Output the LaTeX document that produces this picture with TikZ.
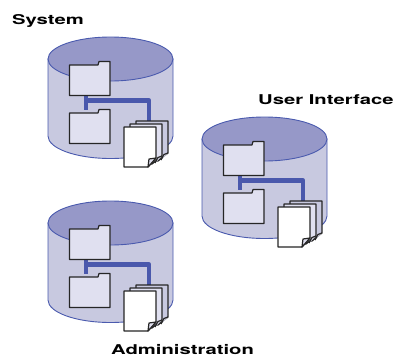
\documentclass[tikz,border=0pt]{standalone}
\usepackage{fontspec}
\newfontfamily\labfont[FakeStretch=1.5]{TeX Gyre Heros}
\definecolor{cyltop}{HTML}{9698C8}
\definecolor{cylbody}{HTML}{C8C9E0}
\definecolor{cylline}{HTML}{4A5AAE}
\definecolor{folderfill}{HTML}{E0E0F0}
\definecolor{linkblue}{HTML}{4A58AC}
\tikzset{
  cylpart/.style={draw=cylline,line width=0.9pt},
  folder/.style={draw=black!85,fill=folderfill,line width=1.2pt,line join=round},
  pagesheet/.style={draw=black!85,line width=1.2pt,line join=round},
  linkline/.style={draw=linkblue,line width=4.5pt,line join=round},
  lab/.style={font=\labfont\bfseries\fontsize{13.5}{15}\selectfont,text=black,inner sep=0pt,anchor=base west},
  store/.pic={
    % cylinder
    \path[cylpart,fill=cylbody] (48,59) -- (48,136) arc[start angle=180,end angle=0,x radius=62.5,y radius=22.5] -- (173,59) -- cycle;
    \path[cylpart,fill=cyltop] (110.5,59) ellipse[x radius=62.5,y radius=22];
    % link
    \coordinate (-a) at (86,95);
    \coordinate (-b) at (86,110);
    \coordinate (-c) at (86,100.5);
    \coordinate (-d) at (149,125);
    \draw[linkline] (-a) -- (-b);
    \draw[linkline] (-c) -- (149,100.5) -- (-d);
    % folders
    \path[folder] (69.5,65) -- (98,65) -- (99,61.5) -- (110,61.5) -- (110,95.5) -- (69.5,95.5) -- cycle;
    \path[folder] (69.5,113) -- (98,113) -- (99,109.5) -- (110,109.5) -- (110,143.5) -- (69.5,143.5) -- cycle;
    % pages, back to front
    \path[pagesheet,fill=cylbody] (136,121) -- (168,121) -- (168,153) -- (158,161) -- (136,161) -- cycle;
    \path[pagesheet,fill=folderfill] (130,124) -- (162,124) -- (162,156) -- (152,164) -- (130,164) -- cycle;
    \path[pagesheet,fill=white] (124,127) -- (156,127) -- (156,158) -- (148,167) -- (124,167) -- cycle;
    \path[pagesheet,fill=folderfill] (156,158) -- (149,159) -- (148,167) -- cycle;
    \path[pagesheet,fill=folderfill] (162,156) -- (158,157.5) -- (155,163);
    \path[pagesheet,fill=folderfill] (168,153) -- (164,154.5) -- (161,160);
  }
}
\begin{document}
\begin{tikzpicture}[x=1pt,y=-1pt]
\useasboundingbox (0,0) rectangle (396,356);
\pic (sys) at (0,0) {store};
\pic (ui) at (154,80) {store};
\pic (adm) at (0,164) {store};
\node[lab] (systemlabel) at (12,24) {System};
\node[lab] (uilabel) at (258,104) {User Interface};
\node[lab] (admlabel) at (111,354.5) {Administration};
\end{tikzpicture}
\end{document}
